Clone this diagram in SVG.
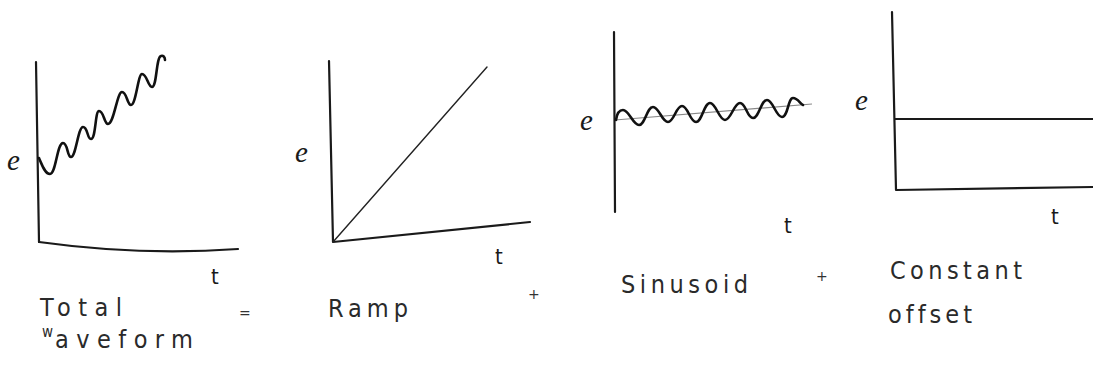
<svg xmlns="http://www.w3.org/2000/svg" width="1093" height="381" viewBox="0 0 1093 381">
<style>
.ax{fill:none;stroke:#1a1a1a;stroke-width:2.2;stroke-linecap:round;stroke-linejoin:round}
.thin{fill:none;stroke:#222;stroke-width:1.4;stroke-linecap:round}
.wave{fill:none;stroke:#111;stroke-width:2.6;stroke-linecap:round;stroke-linejoin:round}
.base{fill:none;stroke:#888;stroke-width:1.2}
.e{font-family:"Liberation Serif",serif;font-style:italic;font-size:29px;fill:#1a1a1a}
.t{font-family:"DejaVu Sans Condensed","DejaVu Sans",sans-serif;font-stretch:condensed;font-size:22px;fill:#1a1a1a}
.lbl{font-family:"DejaVu Sans Condensed","DejaVu Sans",sans-serif;font-stretch:condensed;font-size:25px;fill:#2a2a2a;font-variant-ligatures:none}
.op{font-family:"DejaVu Sans",sans-serif;font-size:14px;fill:#333}
</style>
<rect width="1093" height="381" fill="#ffffff"/>

<g id="total">
<path class="ax" d="M36,62 L39,242"/>
<path class="ax" d="M39,242 Q140,256 238,249"/>
<path class="wave" d="M39,158 C42,165 45,174 50,174 C56,174 57,143 63,143 C68,143 67,157 71,157 C76,157 78,127 83,127 C88,127 87,139 91,139 C96,139 95,111 99,111 C104,111 104,124 108,124 C114,124 117,92 122,92 C127,92 127,105 131,105 C136,105 138,74 142,74 C147,74 148,87 152,87 C157,87 156,57 161,56 C163,55 165,57 165,60"/>
<text class="e" x="7" y="170">e</text>
<text class="t" x="211" y="284">t</text>
<text class="lbl" x="40" y="316" textLength="82" lengthAdjust="spacing">Total</text>
<text class="lbl"><tspan font-size="15" x="42" y="337">w</tspan><tspan x="55" y="348" textLength="138" lengthAdjust="spacing">aveform</tspan></text>
<text class="op" x="239" y="318">=</text>
</g>

<g id="ramp">
<path class="ax" d="M329,61 L333,242 L530,222"/>
<path class="thin" d="M333,242 L487,67"/>
<text class="e" x="295" y="162">e</text>
<text class="t" x="495" y="264">t</text>
<text class="lbl" x="328" y="317" textLength="80" lengthAdjust="spacing">Ramp</text>
<text class="op" x="528" y="299">+</text>
</g>

<g id="sinusoid">
<path class="ax" d="M614,32 L615,212"/>
<path class="base" d="M615,120 L812,104"/>
<path class="wave" d="M616,120 C617,113 619,110 623,110 C629,110 633,125 639,125 C645,125 647,107 653,107 C659,107 662,122 668,122 C674,122 676,106 682,106 C688,106 690,122 696,122 C702,122 704,103 710,103 C716,103 719,120 725,120 C731,120 734,103 740,103 C746,103 747,118 753,118 C759,118 761,100 767,100 C773,100 776,117 782,117 C788,117 788,98 793,98 C798,98 800,104 803,105"/>
<text class="e" x="580" y="130">e</text>
<text class="t" x="784" y="233">t</text>
<text class="lbl" x="621" y="293" textLength="127" lengthAdjust="spacing">Sinusoid</text>
<text class="op" x="816" y="281">+</text>
</g>

<g id="offset">
<path class="ax" d="M892,12 L896,190 L1093,187"/>
<path class="ax" d="M895,119 L1093,119"/>
<text class="e" x="855" y="110">e</text>
<text class="t" x="1051" y="224">t</text>
<text class="lbl" x="890" y="279" textLength="132" lengthAdjust="spacing">Constant</text>
<text class="lbl" x="888" y="323" textLength="84" lengthAdjust="spacing">offset</text>
</g>
</svg>
